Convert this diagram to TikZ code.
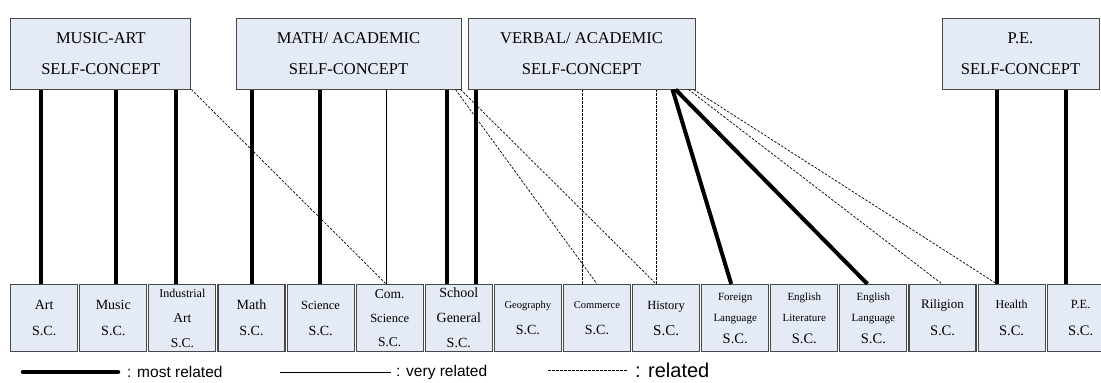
\documentclass[tikz,border=0pt]{standalone}
\usepackage{fontspec}
\setmainfont{Liberation Serif}
\newfontfamily\legendfont{Liberation Sans}
\definecolor{boxfill}{RGB}{229,235,246}
\definecolor{boxline}{RGB}{72,72,72}
\newcommand\fs[2]{\fontsize{#1}{#2}\selectfont}
\begin{document}
\begin{tikzpicture}[x=1pt,y=-1pt,
  topbox/.style={draw=boxline, fill=boxfill, line width=1pt, minimum height=71pt,
    inner sep=0pt, align=center, font=\fs{16.5}{31}},
  subbox/.style={draw=boxline, fill=boxfill, line width=1.1pt, minimum width=67pt,
    minimum height=67pt, inner sep=0pt, align=center, font=\fs{14}{26}},
  most/.style={line width=4pt},
  very/.style={line width=1pt},
  rel/.style={line width=0.7pt, dash pattern=on 2.5pt off 1.5pt},
  legend/.style={inner sep=0pt, anchor=west, font=\legendfont\fs{15.5}{18}},
]
\useasboundingbox (0,0) rectangle (1101,383);
\clip (0,0) rectangle (1101,383);

% self-concept factors
\node[topbox, minimum width=180pt] (mus)  at (100.9,53.5) {MUSIC-ART\\SELF-CONCEPT};
\node[topbox, minimum width=225pt] (math) at (348.5,53.5) {MATH/ ACADEMIC\\SELF-CONCEPT};
\node[topbox, minimum width=227pt] (verb) at (581.5,53.5) {VERBAL/ ACADEMIC\\SELF-CONCEPT};
\node[topbox, minimum width=157pt] (pe)   at (1020.5,53.5) {P.E.\\SELF-CONCEPT};

% subject self-concepts
\node[subbox] (b0)  at (44.2,318)  {Art\\S.C.};
\node[subbox] (b1)  at (113.3,318) {Music\\S.C.};
\node[subbox, font=\fs{13.5}{25}] (b2) at (182.4,318) {{\fs{12}{25}Industrial}\\Art\\S.C.};
\node[subbox] (b3)  at (251.5,318) {Math\\S.C.};
\node[subbox] (b4)  at (320.6,318) {{\fs{12.5}{26}Science}\\S.C.};
\node[subbox, font=\fs{13.5}{24}] (b5) at (389.7,318) {Com.\\{\fs{12.5}{24}Science}\\S.C.};
\node[subbox, font=\fs{14}{25}] (b6) at (458.8,318) {School\\General\\S.C.};
\node[subbox] (b7)  at (527.9,318) {{\fs{10.5}{26}Geography}\\S.C.};
\node[subbox] (b8)  at (597.0,318) {{\fs{10.5}{26}Commerce}\\S.C.};
\node[subbox, font=\fs{15}{26}] (b9) at (666.1,318) {{\fs{12.5}{26}History}\\S.C.};
\node[subbox, font=\fs{11}{21.5}] (b10) at (735.2,318) {Foreign\\Language\\{\fs{14.5}{21.5}S.C.}};
\node[subbox, font=\fs{11}{21.5}] (b11) at (804.3,318) {English\\Literature\\{\fs{14.5}{21.5}S.C.}};
\node[subbox, font=\fs{11}{21.5}] (b12) at (873.4,318) {English\\Language\\{\fs{14.5}{21.5}S.C.}};
\node[subbox, font=\fs{14.5}{27}] (b13) at (942.5,318) {{\fs{13}{27}Riligion}\\S.C.};
\node[subbox, font=\fs{14.5}{27}] (b14) at (1011.6,318) {{\fs{12}{27}Health}\\S.C.};
\node[subbox, font=\fs{14.5}{27}] (b15) at (1080.7,318) {{\fs{12.5}{27}P.E.}\\S.C.};

% vertical links
\coordinate (v0)  at ([xshift=-3pt]b0.north);
\coordinate (v1)  at ([xshift=2.7pt]b1.north);
\coordinate (v2)  at ([xshift=-6.4pt]b2.north);
\coordinate (v3)  at (b3.north);
\coordinate (v4)  at ([xshift=-0.6pt]b4.north);
\coordinate (v5)  at ([xshift=-3.7pt]b5.north);
\coordinate (v6a) at ([xshift=-12pt]b6.north);
\coordinate (v6b) at ([xshift=17pt]b6.north);
\coordinate (v8)  at ([xshift=-15pt]b8.north);
\coordinate (v9)  at ([xshift=-10pt]b9.north);
\coordinate (v14) at ([xshift=-14.6pt]b14.north);
\coordinate (v15) at ([xshift=-14.7pt]b15.north);

\draw[most] (v0) -- (v0 |- mus.south);
\draw[most] (v1) -- (v1 |- mus.south);
\draw[most] (v2) -- (v2 |- mus.south);
\draw[most] (v3) -- (v3 |- math.south);
\draw[most] (v4) -- (v4 |- math.south);
\draw[very] (v5) -- (v5 |- math.south);
\draw[most] (v6a) -- (v6a |- math.south);
\draw[most] (v6b) -- (v6b |- verb.south);
\draw[rel]  (v8) -- (v8 |- verb.south);
\draw[rel]  (v9) -- (v9 |- verb.south);
\draw[most] (v14) -- (v14 |- pe.south);
\draw[most] (v15) -- (v15 |- pe.south);

% slanted links
\draw[rel]  (mus.south east) -- (v5);
\draw[rel]  ([xshift=-6pt]math.south east) -- (b8.north);
\draw[rel]  ([xshift=-1pt]math.south east) -- (v9);
\draw[most] ([xshift=-23pt]verb.south east) -- ([xshift=-4pt]b10.north);
\draw[most] ([xshift=-20pt]verb.south east) -- ([xshift=-6pt]b12.north);
\draw[rel]  ([xshift=-7pt]verb.south east) -- ([xshift=-0.5pt]b13.north);
\draw[rel]  ([xshift=-2pt]verb.south east) -- (v14);

% key
\node[legend] (t1) at (127,372) {: most related};
\node[legend] (t2) at (396,372) {: very related};
\node[legend, font=\legendfont\fs{20}{22}] (t3) at (635,370) {: related};
\coordinate (k1) at (23,372);
\coordinate (k2) at (280,372);
\coordinate (k3) at (548,370);
\draw[most, line width=4.5pt, line cap=round] (k1) -- ([xshift=-9pt]t1.west);
\draw[very] (k2) -- ([xshift=-5pt]t2.west);
\draw[rel]  (k3) -- ([xshift=-7pt]t3.west);
\end{tikzpicture}
\end{document}
